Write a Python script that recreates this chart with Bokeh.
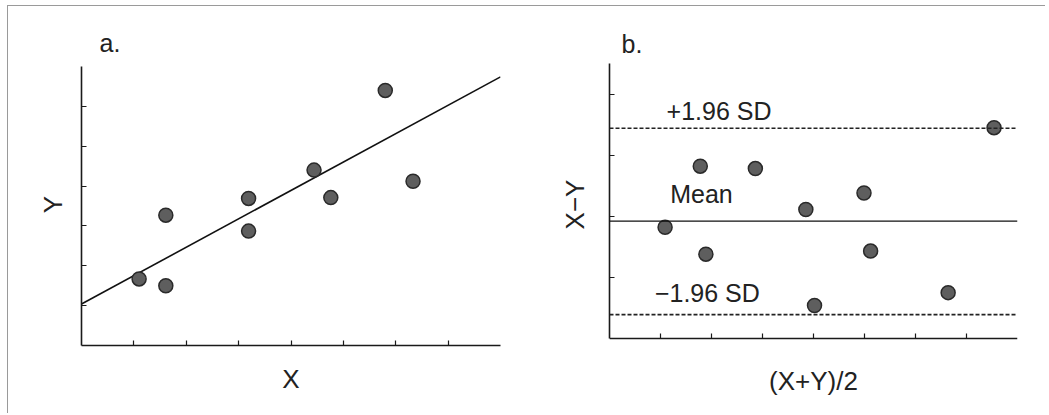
from bokeh.plotting import figure
from bokeh.layouts import row
from bokeh.models import Span, Label, FixedTicker, LinearAxis
from bokeh.embed import file_html
from bokeh.resources import INLINE

# ---- data: panel a (scatter of Y against X with regression line) ----
a_x = [1.10, 1.61, 1.61, 3.19, 3.19, 4.44, 4.76, 5.80, 6.33]
a_y = [1.67, 1.50, 3.27, 3.69, 2.87, 4.40, 3.71, 6.40, 4.12]
a_intercept = 1.04
a_slope = 0.7125
a_xticks = [1, 2, 3, 4, 5, 6, 7]
a_yticks = [1, 2, 3, 4, 5, 6]

# ---- data: panel b (difference against mean, Bland-Altman) ----
b_x = [1.09, 1.78, 1.89, 2.86, 3.85, 4.02, 4.99, 5.12, 6.64, 7.54]
b_y = [1.82, 2.82, 1.38, 2.78, 2.11, 0.54, 2.38, 1.43, 0.75, 3.45]
b_mean = 1.92
b_upper = 3.44
b_lower = 0.39
b_xticks = [1, 2, 3, 4, 5, 6, 7]
b_yticks = [1, 2, 3, 4]

FONT = "Liberation Sans"
TXT = "#222222"
PT_FILL = "#5e5e5e"
PT_LINE = "#2a2a2a"
BORDER = "1px solid #9a9a9a"


def style_axis(ax):
    ax.axis_line_color = "#1a1a1a"
    ax.axis_line_width = 1.6
    ax.major_tick_line_color = "#1a1a1a"
    ax.major_tick_line_width = 1.2
    ax.major_tick_in = 5
    ax.major_tick_out = 0
    ax.minor_tick_line_color = None
    ax.major_label_text_color = None
    ax.major_label_standoff = 0
    ax.axis_label_text_font = FONT
    ax.axis_label_text_font_size = "26px"
    ax.axis_label_text_font_style = "normal"
    ax.axis_label_text_color = TXT


def style(p, xlabel, ylabel, xticks, yticks, xstand, ystand):
    p.grid.visible = False
    p.outline_line_color = None
    p.xaxis.axis_label = xlabel
    p.yaxis.axis_label = ylabel
    p.xaxis.ticker = FixedTicker(ticks=xticks)
    p.yaxis.ticker = FixedTicker(ticks=yticks)
    for ax in (p.xaxis, p.yaxis):
        style_axis(ax)
    p.xaxis.axis_label_standoff = xstand
    p.yaxis.axis_label_standoff = ystand
    p.title.text_font = FONT
    p.title.text_font_size = "25px"
    p.title.text_font_style = "normal"
    p.title.text_color = TXT


# ---------------- panel a ----------------
p1 = figure(width=512, height=408, x_range=(0, 8), y_range=(0, 7.075),
            output_backend="svg", toolbar_location=None, title="a.",
            min_border_left=73, min_border_right=20,
            min_border_top=57, min_border_bottom=69)
style(p1, "X", "Y", a_xticks, a_yticks, 18, 14)
p1.yaxis.bounds = (0, 7)
p1.title.offset = 18
p1.title.standoff = 13
p1.line([0, 8], [a_intercept, a_intercept + a_slope * 8],
        line_color="#111111", line_width=1.6)
p1.scatter(a_x, a_y, size=14, fill_color=PT_FILL, line_color=PT_LINE,
           line_width=1.5)

# ---------------- panel b ----------------
p2 = figure(width=526, height=408, x_range=(0, 8), y_range=(-0.115, 4.5),
            output_backend="svg", toolbar_location=None, title="b.",
            min_border_left=90, min_border_right=28,
            min_border_top=57, min_border_bottom=69)
style(p2, None, "X\u2212Y", b_xticks, b_yticks, 0, 20)
p2.xaxis.fixed_location = 0
p2.yaxis.bounds = (0, 4.5)
# label-only axis underneath the frame carrying the x-axis title
lab_axis = LinearAxis(ticker=FixedTicker(ticks=[]), axis_label="(X+Y)/2")
style_axis(lab_axis)
lab_axis.axis_line_color = None
lab_axis.major_tick_line_color = None
lab_axis.axis_label_standoff = 20
p2.add_layout(lab_axis, "below")
p2.title.offset = 12
p2.title.standoff = 11
p2.add_layout(Span(location=b_mean, dimension="width",
                   line_color="#111111", line_width=1.4))
for loc in (b_upper, b_lower):
    p2.add_layout(Span(location=loc, dimension="width",
                       line_color="#222222", line_width=1.6,
                       line_dash="4 2"))
p2.scatter(b_x, b_y, size=14, fill_color=PT_FILL, line_color=PT_LINE,
           line_width=1.5)

for txt, x, y in (("+1.96 SD", 1.12, 3.73), ("Mean", 1.19, 2.37),
                  ("\u22121.96 SD", 0.89, 0.74)):
    p2.add_layout(Label(x=x, y=y, text=txt, text_font=FONT,
                        text_font_size="25px", text_color=TXT,
                        text_baseline="alphabetic"))

p1.styles = {"border-left": BORDER, "border-top": BORDER}
p2.styles = {"border-top": BORDER}

layout = row(p1, p2, spacing=0)
layout.styles = {"margin-left": "7px", "margin-top": "5px"}
open("out.html", "w").write(file_html(layout, INLINE))
